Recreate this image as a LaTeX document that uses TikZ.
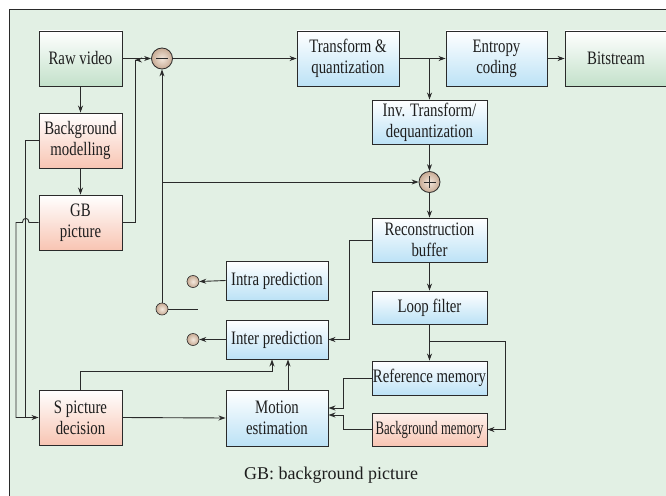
\documentclass[tikz,border=0pt]{standalone}
\usepackage{fontspec}
\setmainfont[FakeStretch=0.78]{Liberation Serif}
\newfontfamily\capfont{Liberation Serif}
\usetikzlibrary{arrows.meta,calc}
\definecolor{bgc}{HTML}{E2F0E4}
\definecolor{linec}{HTML}{2A2A2A}
\definecolor{textc}{HTML}{1E1E1E}
\definecolor{greenB}{HTML}{C3E1CA}
\definecolor{blueB}{HTML}{BCE2F6}
\definecolor{redB}{HTML}{F8C5B3}
\definecolor{redT}{HTML}{FDF1EC}
\definecolor{circIn}{HTML}{F3E8DD}
\definecolor{circOut}{HTML}{C7AA93}
\tikzset{
  box/.style={draw=linec, line width=0.9pt, rectangle, inner sep=0pt, align=center,
    font=\fontsize{19}{21}\selectfont, text=textc},
  gbox/.style={box, top color=white, bottom color=greenB},
  bbox/.style={box, top color=white, bottom color=blueB},
  rbox/.style={box, top color=white, bottom color=redB},
  sumc/.style={circle, draw=linec, line width=0.8pt, inner color=circIn, outer color=circOut,
    minimum size=21pt, inner sep=0pt},
  tapc/.style={circle, draw=linec, line width=0.6pt, inner color=circIn, outer color=circOut,
    minimum size=12pt, inner sep=0pt},
  conn/.style={draw=linec, line width=0.9pt},
  arr/.style={conn, -{Stealth[length=7pt,width=5pt]}},
}
\begin{document}
\begin{tikzpicture}[x=1pt,y=-1pt]
\useasboundingbox (0,0) rectangle (666,495);
\clip (0,0) rectangle (666,495);
\fill[white] (0,0) rectangle (666,495);
\filldraw[fill=bgc, draw=linec, line width=0.8pt] (9,9) rectangle (700,520);

% nodes
\node[gbox, minimum width=83pt, minimum height=55pt] (raw) at (80.5,58.5) {Raw video};
\node[rbox, minimum width=83pt, minimum height=55pt] (bgmod) at (80.5,140.5) {Background\\modelling};
\node[rbox, minimum width=83pt, minimum height=55pt] (gb) at (80.5,222.5) {GB\\picture};
\node[rbox, minimum width=83pt, minimum height=55pt] (spd) at (80.5,417.5) {S picture\\decision};
\node[bbox, minimum width=102pt, minimum height=55pt] (tq) at (348,58.5) {Transform \&\\quantization};
\node[bbox, minimum width=101pt, minimum height=55pt] (ec) at (496.5,58.5) {Entropy\\coding};
\node[gbox, minimum width=102pt, minimum height=55pt] (bs) at (616,58.5) {Bitstream};
\node[bbox, minimum width=115pt, minimum height=44pt] (inv) at (429.5,122) {Inv. Transform/\\dequantization};
\node[bbox, minimum width=115pt, minimum height=44pt] (rb) at (429.5,240) {Reconstruction\\buffer};
\node[bbox, minimum width=115pt, minimum height=33pt] (lf) at (429.5,307.5) {Loop filter};
\node[bbox, minimum width=115pt, minimum height=34pt] (refm) at (429.5,378) {Reference memory};
\node[box, top color=redT, bottom color=redB, minimum width=115pt, minimum height=33pt] (bgm) at (429.5,429.5) {\scalebox{0.86}[1]{Background memory}};
\node[bbox, minimum width=102pt, minimum height=39pt] (intra) at (277,280.5) {Intra prediction};
\node[bbox, minimum width=102pt, minimum height=39pt] (inter) at (277,339.5) {Inter prediction};
\node[bbox, minimum width=102pt, minimum height=56pt] (me) at (277,418) {Motion\\estimation};
\node[sumc] (minus) at (162,58.5) {};
\node[sumc] (plus) at (429.5,182) {};
\node[tapc] (sintra) at (193,281.5) {};
\node[tapc] (sinter) at (193,339.5) {};
\node[tapc] (sw) at (162,309) {};
\coordinate (swend) at (198,309);
\node[font=\capfont\fontsize{18}{20}\selectfont, text=textc] (cap) at (331,475) {GB: background picture};

% signs
\draw[linec, line width=1.2pt] ($(minus.center)+(-6,0)$) -- ($(minus.center)+(6,0)$);
\draw[linec, line width=1pt] ($(plus.center)+(-6,0)$) -- ($(plus.center)+(6,0)$);
\draw[linec, line width=1pt] ($(plus.center)+(0,-6)$) -- ($(plus.center)+(0,6)$);

% coordinates
\coordinate (j1) at (135,58.5);
\coordinate (b1) at (429.5,341.5);
\coordinate (b2) at (505,341.5);

% connectors
\draw[arr] (raw.east) -- (minus.west);
\draw[arr] (gb.east) -- ++(13,0) |- ($(j1)+(0,1.5)$);
\draw[arr] (minus.east) -- (tq.west);
\draw[arr] (tq.east) -- (ec.west);
\draw[arr] (inv.north |- tq.east) -- (inv.north);
\draw[arr] (ec.east) -- (bs.west);
\draw[arr] (inv.south) -- (plus.north);
\draw[arr] (plus.south) -- (rb.north);
\draw[arr] (minus.south |- plus.west) -- (plus.west);
\draw[arr] (sw.north) -- (minus.south);
\draw[conn] (sw.east) -- (swend);
\draw[arr] (rb.west) -- ++(-22,0) |- (inter.east);
\draw[arr] (rb.south) -- (lf.north);
\draw[arr] (lf.south) -- (refm.north);
\draw[arr] (b1) -- (b2) |- (bgm.east);
\draw[arr] (refm.west) -- ++(-28,0) |- ($(me.east)+(0,-10)$);
\draw[arr] (bgm.west) -- ++(-28,0) |- ($(me.east)+(0,-3)$);
\draw[arr] ($(me.north)+(11,0)$) -- ($(inter.south)+(11,0)$);
\draw[arr] (spd.north) -- ++(0,-18) -| ($(inter.south)+(-5,0)$);
\draw[arr] (spd.east) -- (me.west);
\draw[arr] (intra.west) -- (sintra.east);
\draw[arr] (inter.west) -- (sinter.east);
\draw[arr] (raw.south) -- (bgmod.north);
\draw[arr] (bgmod.south) -- (gb.north);
\draw[conn] (bgmod.west) -- (25.7,140.5) -- (25.7,417.5);
\draw[arr] (gb.west) -- (29,222.5) .. controls (29,217) and (22.4,217) .. (22.4,222.5) -- (16,222.5) |- (spd.west);
\end{tikzpicture}
\end{document}
